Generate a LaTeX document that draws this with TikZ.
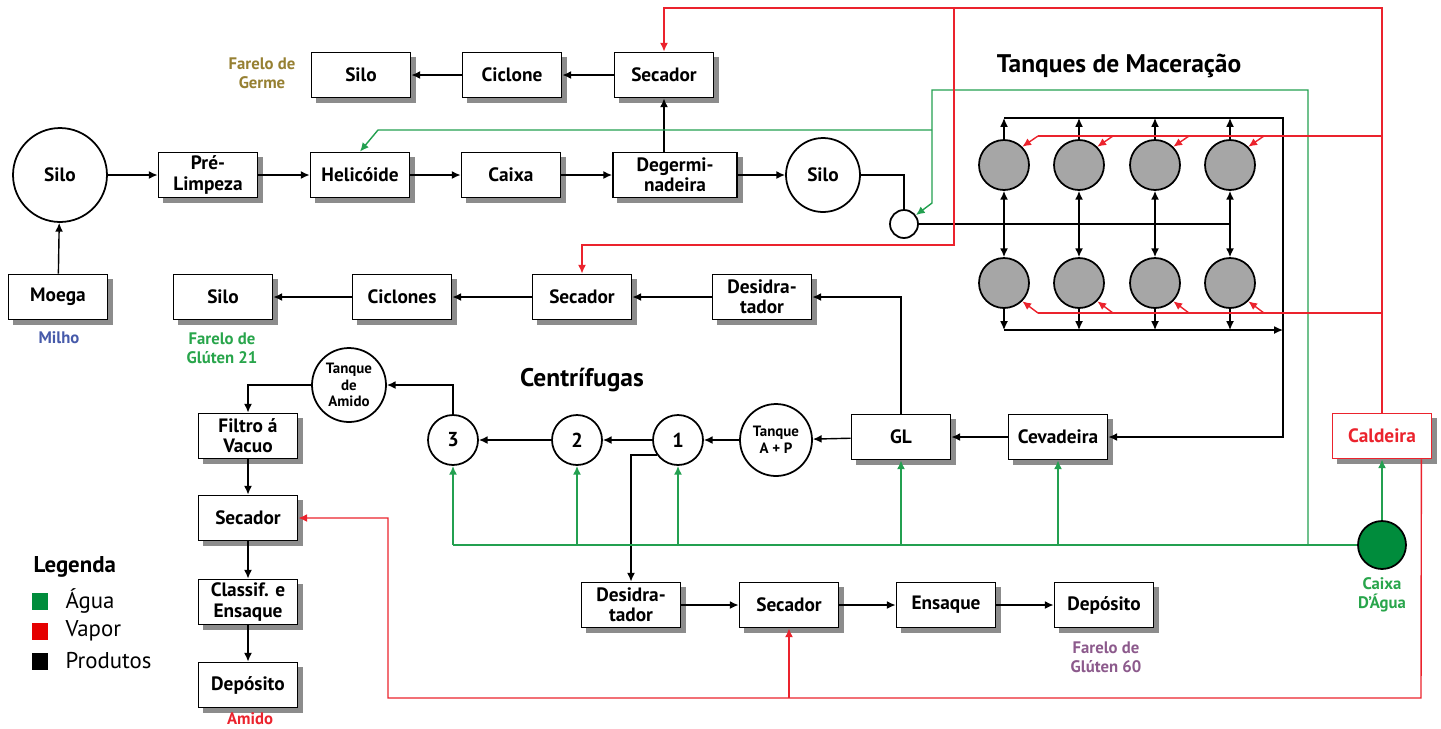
\documentclass[tikz,border=0pt]{standalone}
\usepackage{fontspec}
\setmainfont{PT Sans}
\usetikzlibrary{arrows,arrows.meta,backgrounds}
\definecolor{verde}{RGB}{35,160,80}
\definecolor{verdeescuro}{RGB}{0,140,60}
\definecolor{vermelho}{RGB}{235,35,45}
\definecolor{germe}{RGB}{150,128,50}
\definecolor{milho}{RGB}{70,90,170}
\definecolor{gluten}{RGB}{40,165,75}
\definecolor{glutenB}{RGB}{140,90,140}
\definecolor{sombracor}{RGB}{140,140,140}

\begin{document}
\begin{tikzpicture}[x=0.02cm,y=-0.02cm,>={Latex[length=5pt,width=4.5pt]},line width=0.8pt,
  box/.style={draw,line width=1pt,fill=white,minimum width=1.98cm,minimum height=0.9cm,inner sep=1pt,align=center,font=\bfseries\fontsize{11}{11.5}\selectfont},
  widebox/.style={box,minimum width=2.48cm},
  roundbox/.style={shape=circle,draw,line width=1pt,fill=white,inner sep=0pt,align=center,font=\bfseries\fontsize{11}{11.5}\selectfont},
  centr/.style={roundbox,minimum size=1cm,font=\bfseries\fontsize{11.5}{12}\selectfont},
  tanque/.style={roundbox,minimum size=1.48cm,font=\bfseries\fontsize{8.5}{9.5}\selectfont},
  mac/.style={shape=circle,draw,line width=1pt,fill=black!35,minimum size=1cm,inner sep=0pt},
  lbl/.style={align=center,font=\bfseries\fontsize{9.5}{11}\selectfont},
  titulo/.style={font=\bfseries\fontsize{14.5}{16}\selectfont},
  agua/.style={draw=verde},
  vapor/.style={draw=vermelho},
  sombra/.style={fill=sombracor,draw=none},
  legbox/.style={minimum size=0.34cm,inner sep=0pt},
  legtxt/.style={anchor=west,font=\fontsize{13}{15}\selectfont}
]
\useasboundingbox (0,0) rectangle (1441,728);

\node (silogerme) at (361,75) [box] {Silo};
\node (ciclone) at (512,75) [box] {Ciclone};
\node (secadorA) at (664,75) [box] {Secador};

\node (silo) at (60,175) [roundbox,minimum size=1.88cm] {Silo};
\node (prelimp) at (208,175) [box] {Pré-\\Limpeza};
\node (helic) at (360,175) [box] {Helicóide};
\node (caixa) at (511,175) [box] {Caixa};
\node (degerm) at (675,175) [widebox] {Degermi-\\nadeira};
\node (silob) at (823,175) [roundbox,minimum size=1.48cm] {Silo};
\node (valve) at (904,224) [roundbox,minimum size=0.56cm] {};

\node (moega) at (58,297) [box] {Moega};
\node (silogluten) at (223,297) [box] {Silo};
\node (ciclones) at (402,297) [box] {Ciclones};
\node (secadorB) at (582,297) [box] {Secador};
\node (desidrA) at (762,297) [box] {Desidra-\\tador};

\node (tqamido) at (349,385) [tanque] {Tanque\\de\\Amido};
\node (filtro) at (248,436) [box] {Filtro á\\Vacuo};
\node (c3) at (453,440) [centr] {3};
\node (c2) at (577,440) [centr] {2};
\node (c1) at (678,440) [centr] {1};
\node (tqap) at (776,440) [tanque,minimum size=1.44cm] {Tanque\\A + P};
\node (gl) at (901,437) [box] {GL};
\node (cevad) at (1058,437) [box] {Cevadeira};
\node (caldeira) at (1382,436) [box,draw=vermelho,text=vermelho] {Caldeira};

\node (secadorC) at (248,518) [box] {Secador};
\node (classif) at (248,602) [box] {Classif. e\\Ensaque};
\node (depA) at (248,685) [box] {Depósito};
\node (desidrB) at (631,605) [box] {Desidra-\\tador};
\node (secadorD) at (789,605) [box] {Secador};
\node (ensaque) at (946,605) [box] {Ensaque};
\node (depB) at (1104,605) [box] {Depósito};
\node (caixad) at (1382,545) [shape=circle,draw,line width=1pt,fill=verdeescuro,minimum size=0.96cm] {};

\begin{scope}[on background layer]
\foreach \n in {silogerme,ciclone,secadorA,prelimp,helic,caixa,degerm,moega,silogluten,ciclones,secadorB,desidrA,filtro,gl,cevad,caldeira,secadorC,classif,depA,desidrB,secadorD,ensaque,depB}
  \fill [sombra] ([shift={(5,5)}]\n.south west) rectangle ([shift={(5,5)}]\n.north east);
\end{scope}

\foreach \i/\x in {1/1004,2/1079,3/1155,4/1230} {
  \node (u\i) at (\x,165) [mac] {};
  \node (l\i) at (\x,283) [mac] {};
}

\node (txgerme) at (262,73) [lbl,text=germe] {Farelo de\\Germe};
\node (txmilho) at (59,338) [lbl,text=milho] {Milho};
\node (txgluten) at (222,348) [lbl,text=gluten] {Farelo de\\Glúten 21};
\node (txgluten60) at (1106,657) [lbl,text=glutenB] {Farelo de\\Glúten 60};
\node (txamido) at (250,719) [lbl,text=vermelho] {Amido};
\node (txcaixa) at (1382,595) [lbl,text=gluten] {Caixa\\D'Água};
\node (txtanques) at (1119,66) [titulo] {Tanques de Maceração};
\node (txcentr) at (582,380) [titulo] {Centrífugas};

\node (txleg) at (27,567) [anchor=west,font=\bfseries\fontsize{13}{15}\selectfont] {Legenda};
\node (legA) at (40,601) [legbox,fill=verdeescuro] {};
\node (legV) at (40,631) [legbox,fill=red!90!black] {};
\node (legP) at (40,661) [legbox,fill=black] {};
\node at (59,601) [legtxt] {Água};
\node at (59,631) [legtxt] {Vapor};
\node at (59,661) [legtxt] {Produtos};

\coordinate (topr) at (1283,118);
\coordinate (botr) at (1283,330);

\draw [->] (moega) -- (silo);
\draw [->] (silo) -- (prelimp);
\draw [->] (prelimp) -- (helic);
\draw [->] (helic) -- (caixa);
\draw [->] (caixa) -- (degerm);
\draw [->] (degerm) -- (silob);
\draw [->] (secadorA |- degerm.north) -- (secadorA.south);
\draw [->] (secadorA) -- (ciclone);
\draw [->] (ciclone) -- (silogerme);
\draw (silob) -| (valve);
\draw (valve) -- (valve -| u4);

\foreach \i in {1,...,4} {
  \draw [<->] (u\i) -- (l\i);
  \draw [->] (u\i) -- (u\i |- topr);
  \draw [->] (l\i) -- (l\i |- botr);
}
\draw [->] (u1 |- topr) -- (topr) |- (cevad);
\draw [->] (l1 |- botr) -- (botr);

\draw [->] (cevad) -- (gl);
\draw [->] (gl) -- (tqap);
\draw [->] (tqap) -- (c1);
\draw [->] (c1) -- (c2);
\draw [->] (c2) -- (c3);
\draw [->] (c3) |- (tqamido);
\draw [->] (tqamido) -| (filtro);
\draw [->] (filtro) -- (secadorC);
\draw [->] (secadorC) -- (classif);
\draw [->] (classif) -- (depA);
\draw [->] (gl) |- (desidrA);
\draw [->] (desidrA) -- (secadorB);
\draw [->] (secadorB) -- (ciclones);
\draw [->] (ciclones) -- (silogluten);
\draw [->] (c1.215) -| (desidrB);
\draw [->] (desidrB) -- (secadorD);
\draw [->] (secadorD) -- (ensaque);
\draw [->] (ensaque) -- (depB);

\draw [agua] (c3 |- caixad) -- (caixad);
\foreach \n in {c3,c2,c1,gl,cevad}
  \draw [agua,->] (\n |- caixad) -- (\n);
\draw [agua,->] (1308,545) -- (1308,90) -- (932,90) -- (932,203) -- (valve);
\draw [agua,->] (932,130) -- (378,130) -- (helic.north);
\draw [agua,->] (caixad) -- (caldeira);

\draw [vapor,->] (caldeira.north) -- (1382,8) -- (secadorA.north |- 0,8) -- (secadorA.north);
\draw [vapor,->] (954,8) -- (954,245) -| (secadorB.north);
\draw [vapor] (1382,136) -- (1038,136);
\draw [vapor] (1382,313) -- (1038,313);
\foreach \i in {1,...,4} {
  \draw [vapor,->] ([shift={(34,-29)}]u\i.center) -- (u\i.45);
  \draw [vapor,->] ([shift={(34,30)}]l\i.center) -- (l\i.-45);
}
\draw [vapor,->] ([shift={(-11,0)}]caldeira.south east) -- (1421,698) -- (388,698) |- (secadorC);
\draw [vapor,->] (secadorD |- 0,698) -- (secadorD);
\end{tikzpicture}
\end{document}
